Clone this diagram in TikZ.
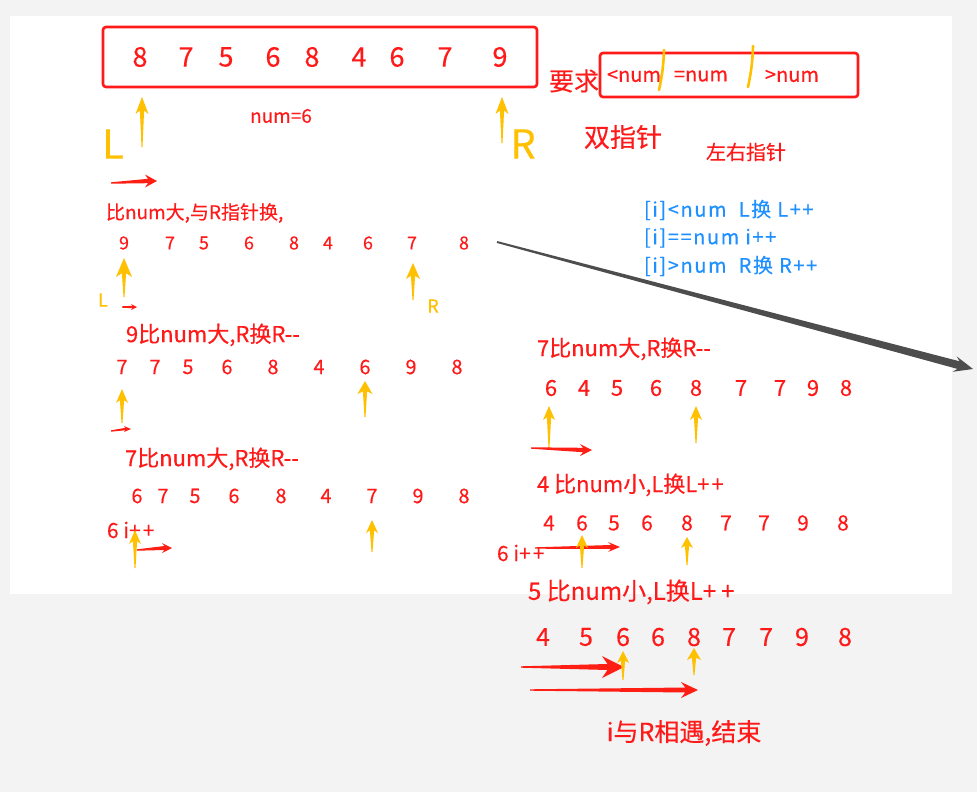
\documentclass[tikz,border=0pt]{standalone}
\usepackage{fontspec}
\setmainfont{Noto Sans CJK SC}
\newfontfamily\mf{Noto Sans CJK SC}[FakeBold=0.3]
\definecolor{tred}{RGB}{255,26,26}
\definecolor{ared}{RGB}{255,30,20}
\definecolor{ayel}{RGB}{255,192,0}
\definecolor{tblue}{RGB}{30,144,255}
\definecolor{bggray}{RGB}{243,243,243}
\definecolor{darr}{RGB}{77,77,77}
\newcommand{\fs}[1]{\fontsize{#1}{#1}\selectfont}
\newcommand{\pp}{+\kern2pt+}
% yellow up arrow: x, ytop, ybot, headlen, halfwidth
\newcommand{\yarr}[5]{\fill[ayel] (#1,#2) -- ({#1+#5},{#2+#4}) -- ({#1+2.1},{#2+0.8*#4}) -- ({#1+0.5},#3) -- ({#1-0.5},#3) -- ({#1-2.1},{#2+0.8*#4}) -- ({#1-#5},{#2+#4}) -- cycle;}
% red right arrow: x1,y1,x2,y2,headlen,headhalf,shafthalf
\newcommand{\rarr}[7]{\fill[ared] (#1,{#2-0.7}) -- ({#3-0.75*#5},{#4-#7}) -- ({#3-#5},{#4-#6}) -- (#3,#4) -- ({#3-#5},{#4+#6}) -- ({#3-0.75*#5},{#4+#7}) -- (#1,{#2+0.7}) -- cycle;}
\tikzset{
  txt/.style={inner sep=0pt, outer sep=0pt, text=tred},
  lt/.style={txt, anchor=west},
  blu/.style={inner sep=0pt, outer sep=0pt, text=tblue, anchor=west, font=\fs{20}\addfontfeature{LetterSpace=8}},
  ylab/.style={inner sep=0pt, outer sep=0pt, text=ayel},
  redbox/.style={draw=tred, line width=2.6pt, rounded corners=3pt},
  ystroke/.style={draw=ayel, line width=2.6pt, line cap=round}
}
\begin{document}
\begin{tikzpicture}[x=1pt,y=-1pt]
\mf
\useasboundingbox (0,0) rectangle (977,792);
\fill[bggray] (0,0) rectangle (977,792);
\fill[white] (10,16) rectangle (952,594);

% top array box
\draw[redbox] (103,27) rectangle (537,87);
\foreach \x/\d [count=\k] in {140/8,186/7,226/5,273/6,312/8,359/4,397/6,445/7,500/9}
  \node[txt, font=\fs{27}] (t\k) at (\x,57) {\d};
\node[txt, font=\fs{19}] (numsix) at (281,116) {num=6};
\node[ylab, font=\fs{40}] (bigL) at (113,144) {L};
\node[ylab, font=\fs{40}] (bigR) at (523,144) {R};
\yarr{142}{97}{147}{17}{6.5}
\yarr{502}{97}{143}{17}{6.5}
\rarr{111}{183}{157}{181}{12}{6.5}{2.2}

% requirement box
\node[txt, font=\fs{25}] (req) at (574,81) {要求};
\draw[redbox] (600,53) rectangle (858,97);
\node[lt, font=\fs{20}] (lt1) at (607,76) {<num};
\node[lt, font=\fs{20}] (eq1) at (674,76) {=num};
\node[lt, font=\fs{20}] (gt1) at (765,76) {>num};
\draw[ystroke] (664,50) to[bend left=5] (659,90);
\draw[ystroke] (753,46) to[bend left=5] (748,87);
\node[txt, font=\fs{26}] (sz) at (623,137) {双指针};
\node[txt, font=\fs{20}] (zy) at (746,152) {左右指针};
\node[blu] (b1) at (644,210) {[i]<num\ \ L换 L++};
\node[blu] (b2) at (644,238) {[i]==num i++};
\node[blu] (b3) at (644,266) {[i]>num\ \ R换 R++};

% gray long arrow
\fill[darr] (497.3,241.1) -- (959.6,361.3) -- (956.7,356.4) -- (973,369) -- (952.5,371.8) -- (957.4,368.9) -- (496.7,242.9) -- cycle;

% left column
\node[lt, font=\fs{19}] (s1) at (106,213) {比num大,与R指针换,};
\foreach \x/\d [count=\k] in {124/9,170/7,204/5,249/6,294/8,328/4,368/6,412/7,464/8}
  \node[txt, font=\fs{18}] (a\k) at (\x,243) {\d};
\yarr{124}{258}{297}{19}{8}
\yarr{413}{263}{300}{16}{7}
\node[ylab, font=\fs{18}] (smL) at (103,300) {L};
\node[ylab, font=\fs{18}] (smR) at (433,306) {R};
\rarr{122}{307}{137}{307}{6}{3}{1.2}

\node[lt, font=\fs{22}] (s2) at (126,335) {9比num大,R换R-{}-};
\foreach \x/\d [count=\k] in {122/7,155/7,188/5,227/6,273/8,319/4,365/6,411/9,457/8}
  \node[txt, font=\fs{20}] (b\k) at (\x,367) {\d};
\yarr{122}{389}{423}{14}{6}
\yarr{365}{381}{417}{13}{7.5}
\rarr{111}{431}{131}{429}{7}{3}{1.2}

\node[lt, font=\fs{22}] (s3) at (125,459) {7比num大,R换R-{}-};
\foreach \x/\d [count=\k] in {137/6,163/7,195/5,234/6,281/8,326/4,372/7,418/9,464/8}
  \node[txt, font=\fs{20}] (c\k) at (\x,496) {\d};
\node[lt, font=\fs{21}] (s4) at (107,530) {6 i\pp};
\yarr{135}{530}{568}{14}{6}
\yarr{372}{520}{552}{13}{6}
\rarr{137}{550}{172}{548}{10}{5}{2}

% right column
\node[lt, font=\fs{22}] (s5) at (537,349) {7比num大,R换R-{}-};
\foreach \x/\d [count=\k] in {551/6,584/4,617/5,656/6,696/8,741/7,780/7,813/9,846/8}
  \node[txt, font=\fs{22}] (d\k) at (\x,388) {\d};
\yarr{549}{406}{448}{14}{6}
\yarr{696}{406}{443}{14}{6}
\rarr{531}{448}{592}{450}{12}{6}{2.2}

\node[lt, font=\fs{22}] (s6) at (537,485) {4 比num小,L换L\pp};
\foreach \x/\d [count=\k] in {549/4,582/6,614/5,647/6,687/8,726/7,764/7,803/9,843/8}
  \node[txt, font=\fs{21}] (e\k) at (\x,523) {\d};
\node[lt, font=\fs{21}] (s7) at (497,553) {6 i\pp};
\rarr{535}{548}{620}{547}{12}{5}{2}
\yarr{582}{535}{568}{13}{6}
\yarr{687}{537}{565}{11}{6}

\node[lt, font=\fs{24}] (s8) at (528,592) {5 比num小,L换L+\kern5pt+};
\foreach \x/\d [count=\k] in {543/4,586/5,623/6,658/6,694/8,729/7,766/7,802/9,845/8}
  \node[txt, font=\fs{25}] (f\k) at (\x,637) {\d};
\rarr{521}{667}{624}{667}{22}{11}{3}
\yarr{623}{651}{680}{12}{6}
\yarr{694}{648}{675}{12}{7}
\rarr{530}{690}{698}{690}{17}{8}{2.5}
\node[txt, font=\fs{25}] (endt) at (684,733) {i与R相遇,结束};
\end{tikzpicture}
\end{document}
